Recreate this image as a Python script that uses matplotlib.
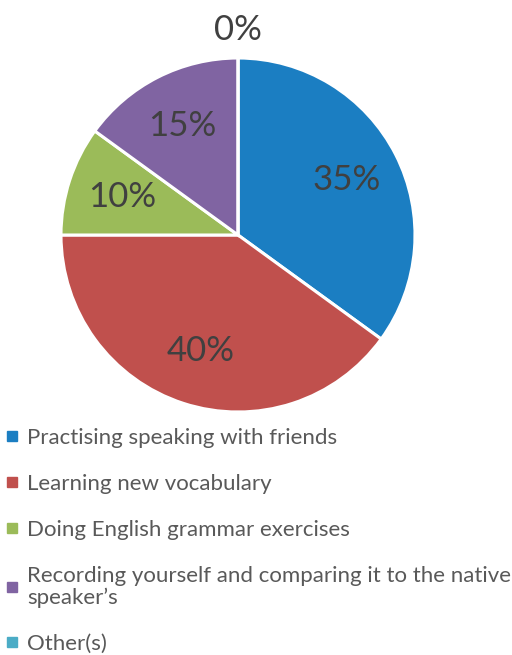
import matplotlib.pyplot as plt
from matplotlib.lines import Line2D
import numpy as np

categories = ["Practising speaking with friends",
              "Learning new vocabulary",
              "Doing English grammar exercises",
              "Recording yourself and comparing it to the native\nspeaker\u2019s",
              "Other(s)"]
values = [35, 40, 10, 15, 0]
colors = ["#1B7EC2", "#C0504D", "#9BBB59", "#8064A2", "#4BACC6"]

plt.rcParams['font.family'] = ['Lato', 'DejaVu Sans']

fig = plt.figure(figsize=(5.12, 6.55), dpi=100)
W, H = 512, 655
cx, cy, r = 238, 235, 177
ax = fig.add_axes([(cx - r) / W, (H - cy - r) / H, 2 * r / W, 2 * r / H])

wedges, texts, autotexts = ax.pie(values, colors=colors, startangle=90, counterclock=False,
                                  autopct='%d%%', pctdistance=0.69,
                                  wedgeprops=dict(edgecolor='white', linewidth=2.2),
                                  textprops=dict(fontsize=25, color='#404040'))
ax.set_xlim(-1, 1)
ax.set_ylim(-1, 1)
ax.set_aspect('auto')

# zero slice label goes outside, above the pie
for w, t, v in zip(wedges, autotexts, values):
    if v == 0:
        ang = np.deg2rad((w.theta1 + w.theta2) / 2)
        t.set_position((1.16 * np.cos(ang), 1.16 * np.sin(ang)))
        t.set_clip_on(False)

handles = [Line2D([], [], marker='s', linestyle='none', markersize=6.5, color=c) for c in colors]
leg = fig.legend(handles, categories, loc='upper left', bbox_to_anchor=(0.01, 0.347),
                 frameon=False, fontsize=16, labelcolor='#595959', handlelength=0.6,
                 handletextpad=0.38, labelspacing=1.18, borderpad=0, borderaxespad=0)
for t in leg.get_texts():
    t.set_linespacing(1.08)

fig.savefig('out.png', dpi=100)
